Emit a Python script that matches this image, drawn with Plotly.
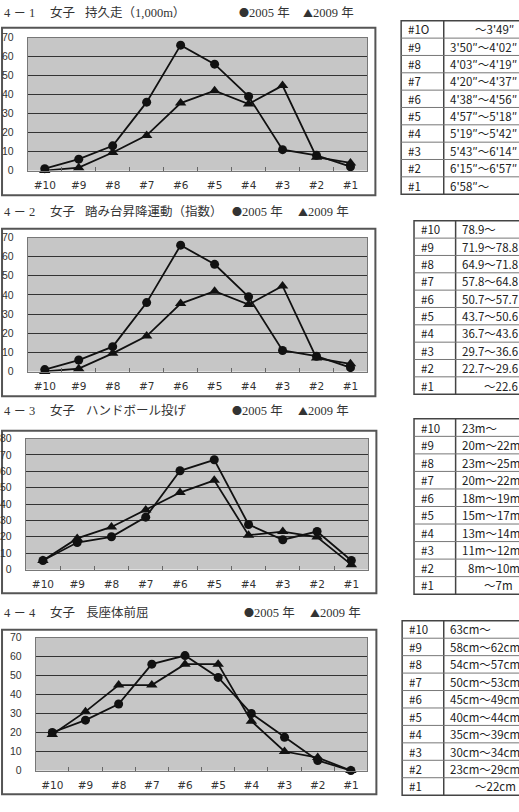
import plotly.graph_objects as go

W, H = 519, 812

# ---------------- data ----------------
categories = ["#10", "#9", "#8", "#7", "#6", "#5", "#4", "#3", "#2", "#1"]

run_2005 = [1, 6, 13, 36, 66, 56, 39, 11, 8, 2]
run_2009 = [0, 1.5, 9.5, 18.5, 35.5, 42, 35, 44.7, 7, 4]

step_2005 = [1, 6, 13, 36, 66, 56, 39, 11, 8, 2]
step_2009 = [0, 1.5, 9.5, 18.5, 35.5, 42, 35, 44.7, 7, 4]

hb_2005 = [5.5, 16.5, 20, 32, 60.3, 67, 27.5, 18.2, 23.2, 5.5]
hb_2009 = [5.5, 19, 26, 36.4, 47, 54.5, 21, 23.2, 19.8, 3]

sr_2005 = [20, 26.5, 35, 56, 60.5, 49, 30, 17.5, 5.3, 0]
sr_2009 = [19, 31, 45, 45, 56, 56, 26, 10, 6.8, 0]

titles_num = ["4 － 1", "4 － 2", "4 － 3", "4 － 4"]
titles_event = ["持久走（1,000m）", "踏み台昇降運動（指数）", "ハンドボール投げ", "長座体前屈"]
legend_symbols = ["●", "▲"]
legend_labels = ["2005 年", "2009 年"]

table_rows = ["#1O", "#9", "#8", "#7", "#6", "#5", "#4", "#3", "#2", "#1"]
table_rows2 = ["#10", "#9", "#8", "#7", "#6", "#5", "#4", "#3", "#2", "#1"]
run_ranges = ["～3'49″", "3'50″～4'02″", "4'03″～4'19″", "4'20″～4'37″", "4'38″～4'56″",
              "4'57″～5'18″", "5'19″～5'42″", "5'43″～6'14″", "6'15″～6'57″", "6'58″～"]
step_ranges = ["78.9～", "71.9～78.8", "64.9～71.8", "57.8～64.8", "50.7～57.7",
               "43.7～50.6", "36.7～43.6", "29.7～36.6", "22.7～29.6", "～22.6"]
hb_ranges = ["23m～", "20m～22m", "23m～25m", "20m～22m", "18m～19m",
             "15m～17m", "13m～14m", "11m～12m", "8m～10m", "～7m"]
sr_ranges = ["63cm～", "58cm～62cm", "54cm～57cm", "50cm～53cm", "45cm～49cm",
             "40cm～44cm", "35cm～39cm", "30cm～34cm", "23cm～29cm", "～22cm"]


def fx(x):
    return x / W


def fy(y):
    return 1 - y / H


fig = go.Figure()
shapes = []
annotations = []

charts = [
    dict(s05=run_2005, s09=run_2009, x0=23, x1=366, yt=32, yb=167, ymax=70,
         box=(-3, 22, 374, 192), ty=7, tev=79, l1=234, l2=299),
    dict(s05=step_2005, s09=step_2009, x0=23, x1=366, yt=235, yb=371, ymax=70,
         box=(-3, 226, 374, 396), ty=209, tev=79, l1=227, l2=294),
    dict(s05=hb_2005, s09=hb_2009, x0=21, x1=367, yt=439, yb=572, ymax=80,
         box=(-3, 431, 375, 596), ty=411, tev=80, l1=227, l2=294),
    dict(s05=sr_2005, s09=sr_2009, x0=31, x1=366, yt=641, yb=776, ymax=70,
         box=(-3, 633, 375, 800), ty=616, tev=80, l1=239, l2=306),
]

title_font = dict(family="Liberation Serif, Noto Sans CJK JP", size=12.5, color="#333333")
sym_style = "font-family:'Noto Sans CJK JP';font-size:10px;"

for i, c in enumerate(charts, start=1):
    xa = "x" if i == 1 else f"x{i}"
    ya = "y" if i == 1 else f"y{i}"
    # outer box
    bx0, by0, bx1, by1 = c["box"]
    shapes.append(dict(type="rect", xref="paper", yref="paper",
                       x0=fx(bx0), x1=fx(bx1), y0=fy(by1), y1=fy(by0),
                       line=dict(color="#555555", width=2), fillcolor="rgba(0,0,0,0)",
                       layer="below"))
    fig.add_trace(go.Scatter(x=categories, y=c["s05"], mode="lines+markers",
                             line=dict(color="#111111", width=1.8),
                             marker=dict(symbol="circle", size=9, color="#111111"),
                             xaxis=xa, yaxis=ya, showlegend=False, cliponaxis=False))
    fig.add_trace(go.Scatter(x=categories, y=c["s09"], mode="lines+markers",
                             line=dict(color="#111111", width=1.8),
                             marker=dict(symbol="triangle-up", size=10, color="#111111"),
                             xaxis=xa, yaxis=ya, showlegend=False, cliponaxis=False))
    xkey = "xaxis" if i == 1 else f"xaxis{i}"
    ykey = "yaxis" if i == 1 else f"yaxis{i}"
    fig.update_layout(**{
        xkey: dict(domain=[fx(c["x0"]), fx(c["x1"])], anchor=ya, type="category",
                   range=[-0.5, 9.5], showgrid=False, showline=True, linecolor="#777777",
                   linewidth=1, mirror=True, ticks="inside", tickson="boundaries",
                   ticklen=4, tickcolor="#666666", ticklabelstandoff=5,
                   tickfont=dict(family="DejaVu Sans", size=10.5, color="#333333"),
                   fixedrange=True),
        ykey: dict(domain=[fy(c["yb"]), fy(c["yt"])], anchor=xa,
                   range=[0, c["ymax"]], dtick=10, showgrid=True, gridcolor="#333333",
                   gridwidth=1, zeroline=False, showline=True, linecolor="#777777",
                   linewidth=1, mirror=True, ticks="", ticklabelstandoff=11,
                   tickfont=dict(family="Liberation Sans", size=10.5, color="#333333"),
                   fixedrange=True),
    })
    # titles
    ty = fy(c["ty"])
    items = [(titles_num[i - 1], -3), ("女子", 43), (titles_event[i - 1], c["tev"]),
             (f"<span style=\"{sym_style}\">{legend_symbols[0]}</span>{legend_labels[0]}", c["l1"]),
             (f"<span style=\"{sym_style}\">{legend_symbols[1]}</span>{legend_labels[1]}", c["l2"])]
    for txt, xx in items:
        annotations.append(dict(text=txt, x=fx(xx), y=ty, xref="paper", yref="paper",
                                xanchor="left", yanchor="middle", showarrow=False,
                                font=title_font))

# ---------------- tables ----------------
tables = [
    dict(rows=table_rows, vals=run_ranges, left=400, div=443, top=15, bot=191,
         align=["right"] + ["left"] * 9, rx=[516] + [None] * 9),
    dict(rows=table_rows2, vals=step_ranges, left=413, div=455, top=218, bot=394,
         align=["left"] * 9 + ["right"], rx=[None] * 9 + [520]),
    dict(rows=table_rows2, vals=hb_ranges, left=413, div=455, top=419, bot=597,
         align=["left"] * 8 + ["right", "right"], rx=[None] * 8 + [522, 515]),
    dict(rows=table_rows2, vals=sr_ranges, left=401, div=443, top=624, bot=801,
         align=["left"] * 9 + ["right"], rx=[None] * 9 + [518]),
]
tfont = dict(family="Noto Sans CJK JP", size=11.5, color="#222222")
for t in tables:
    right = 540
    n = len(t["rows"])
    rh = (t["bot"] - t["top"]) / n
    shapes.append(dict(type="rect", xref="paper", yref="paper",
                       x0=fx(t["left"]), x1=fx(right), y0=fy(t["bot"]), y1=fy(t["top"]),
                       line=dict(color="#444444", width=1.5), fillcolor="white"))
    shapes.append(dict(type="line", xref="paper", yref="paper",
                       x0=fx(t["div"]), x1=fx(t["div"]), y0=fy(t["bot"]), y1=fy(t["top"]),
                       line=dict(color="#444444", width=1.5)))
    for k in range(1, n):
        yy = t["top"] + k * rh
        shapes.append(dict(type="line", xref="paper", yref="paper",
                           x0=fx(t["left"]), x1=fx(right), y0=fy(yy), y1=fy(yy),
                           line=dict(color="#777777", width=1)))
    for k in range(n):
        yc = fy(t["top"] + (k + 0.5) * rh)
        annotations.append(dict(text=t["rows"][k], x=fx(t["left"] + 5), y=yc,
                                xref="paper", yref="paper", xanchor="left",
                                yanchor="middle", showarrow=False, font=tfont))
        if t["align"][k] == "left":
            annotations.append(dict(text=t["vals"][k], x=fx(t["div"] + 4), y=yc,
                                    xref="paper", yref="paper", xanchor="left",
                                    yanchor="middle", showarrow=False, font=tfont))
        else:
            annotations.append(dict(text=t["vals"][k], x=fx(t["rx"][k]), y=yc,
                                    xref="paper", yref="paper", xanchor="right",
                                    yanchor="middle", showarrow=False, font=tfont))

fig.update_layout(width=W, height=H, margin=dict(l=0, r=0, t=0, b=0),
                  paper_bgcolor="white", plot_bgcolor="#c6c6c6",
                  shapes=shapes, annotations=annotations, showlegend=False)

fig.write_html("out.html", config=dict(displayModeBar=False))
